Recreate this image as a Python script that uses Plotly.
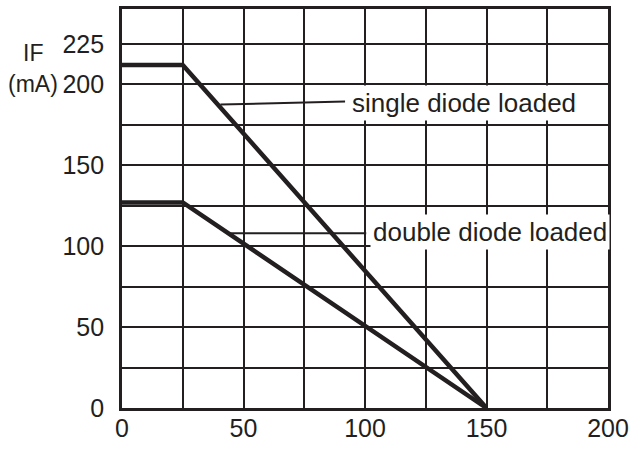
import plotly.graph_objects as go

# Data
temperature = [0, 25, 150]
single_if = [212, 212, 0]
double_if = [127, 127, 0]

x_grid = [0, 25, 50, 75, 100, 125, 150, 175, 200]
x_labels = ["0", "", "50", "", "100", "", "150", "", "200"]
y_grid = [0, 25, 50, 75, 100, 125, 150, 175, 200, 225]
y_labels = ["0", "", "50", "", "100", "", "150", "", "200", "225"]

INK = "#231f20"
FONT = "Liberation Sans, Arial, Helvetica, sans-serif"

W, H = 635, 459
L, R, T, B = 121.5, 25, 6, 51

fig = go.Figure()
fig.add_trace(go.Scatter(x=temperature, y=single_if, mode="lines",
                         line=dict(color=INK, width=4.5), showlegend=False,
                         name="single diode loaded"))
fig.add_trace(go.Scatter(x=temperature, y=double_if, mode="lines",
                         line=dict(color=INK, width=4.5), showlegend=False,
                         name="double diode loaded"))

# leader lines
fig.add_shape(type="line", xref="x", yref="y", x0=40.5, y0=187.5, x1=91.8, y1=189.4,
              line=dict(color=INK, width=2))
fig.add_shape(type="line", xref="x", yref="y", x0=44.5, y0=108, x1=100.5, y1=108,
              line=dict(color=INK, width=2))

fig.add_annotation(x=93.5, y=188.5, xref="x", yref="y", text="single diode loaded",
                   showarrow=False, xanchor="left", yanchor="middle",
                   bgcolor="white", borderpad=2,
                   font=dict(family=FONT, size=26, color=INK))
fig.add_annotation(x=102.0, y=108.5, xref="x", yref="y", text="double diode loaded",
                   showarrow=False, xanchor="left", yanchor="middle",
                   bgcolor="white", borderpad=2,
                   font=dict(family=FONT, size=26, color=INK))


def to_paper(px, py):
    return (px - L) / (W - L - R), (H - B - py) / (H - T - B)


for txt, (px, py) in [("IF", (32, 50)), ("(mA)", (32, 82))]:
    xp, yp = to_paper(px, py)
    fig.add_annotation(x=xp, y=yp, xref="paper", yref="paper", text=txt,
                       showarrow=False, xanchor="center", yanchor="middle",
                       font=dict(family=FONT, size=23, color=INK))

fig.update_layout(
    width=W, height=H,
    margin=dict(l=L, r=R, t=T, b=B, pad=0),
    paper_bgcolor="white", plot_bgcolor="white",
    font=dict(family=FONT, size=25, color=INK),
    xaxis=dict(range=[0, 200], tickvals=x_grid, ticktext=x_labels,
               showgrid=True, gridcolor=INK, gridwidth=2, zeroline=False,
               showline=True, linecolor=INK, linewidth=2.7, mirror=True,
               ticks="", ticklabelstandoff=-4),
    yaxis=dict(range=[0, 246.6], tickvals=y_grid, ticktext=y_labels,
               showgrid=True, gridcolor=INK, gridwidth=2, zeroline=False,
               showline=True, linecolor=INK, linewidth=2.7, mirror=True,
               ticks="", ticklabelstandoff=10),
)

fig.write_html("out.html",
               config={"displayModeBar": False},
               post_script="document.body.style.margin='0';"
                           "document.body.style.overflow='hidden';")
